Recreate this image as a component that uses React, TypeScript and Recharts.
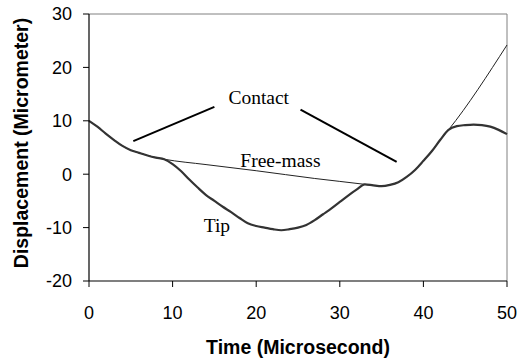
import {
  LineChart,
  Line,
  XAxis,
  YAxis,
  ReferenceLine,
  ReferenceDot,
  Label,
} from "recharts";

// time in microseconds, displacement in micrometers
const time = [
  0, 1, 2, 3, 4, 5, 6, 7, 8, 9, 10, 11, 12, 13, 14, 15, 16, 17, 18, 19, 20, 21,
  22, 23, 24, 25, 26, 27, 28, 29, 30, 31, 32, 33, 34, 35, 36, 37, 38, 39, 40,
  41, 42, 43, 44, 45, 46, 47, 48, 49, 50,
];
const tip = [
  10, 8.9, 7.6, 6.4, 5.3, 4.5, 4.0, 3.5, 3.1, 2.8, 1.9, 0.6, -1.0, -2.5, -3.9,
  -5.0, -6.1, -7.1, -8.2, -9.2, -9.7, -10.0, -10.3, -10.5, -10.3, -10.0, -9.5,
  -8.6, -7.5, -6.4, -5.2, -4.0, -2.9, -1.9, -2.1, -2.25, -2.0, -1.5, -0.5, 0.8,
  2.5, 4.3, 6.4, 8.3, 9.0, 9.2, 9.3, 9.2, 8.9, 8.3, 7.5,
];

const freeMassTime = [
  0, 1, 2, 3, 4, 5, 6, 7, 8, 9, 14, 20, 27, 33, 34, 35, 36, 37, 38, 39, 40, 41,
  42, 43, 50,
];
const freeMass = [
  10, 8.9, 7.6, 6.4, 5.3, 4.5, 4.0, 3.5, 3.1, 2.8, 1.8, 0.65, -0.8, -1.9, -2.1,
  -2.25, -2.0, -1.5, -0.5, 0.8, 2.5, 4.3, 6.4, 8.3, 24.2,
];

const xTicks = [0, 10, 20, 30, 40, 50];
const yTicks = [-20, -10, 0, 10, 20, 30];

// pointer lines from the "Contact" note
const contactPointers = [
  [
    { x: 5.3, y: 6.2 },
    { x: 15.0, y: 12.6 },
  ],
  [
    { x: 25.3, y: 12.1 },
    { x: 36.8, y: 2.3 },
  ],
];

const notes = [
  { text: "Contact", x: 20.3, y: 14.5 },
  { text: "Free-mass", x: 22.9, y: 2.7 },
  { text: "Tip", x: 15.3, y: -9.5 },
];

const tipData = time.map((t, i) => ({ t, v: tip[i] }));
const freeMassData = freeMassTime.map((t, i) => ({ t, v: freeMass[i] }));

const sans = "'Liberation Sans', Arial, sans-serif";
const serif = "'Liberation Serif', 'Times New Roman', serif";

function YTitle({ viewBox }: any) {
  const x = 28;
  const y = viewBox.y + viewBox.height / 2 - 4.5;
  return (
    <text
      x={x}
      y={y}
      transform={`rotate(-90 ${x} ${y})`}
      textAnchor="middle"
      fontFamily={sans}
      fontWeight="bold"
      fontSize={19.5}
      fill="#000"
    >
      Displacement (Micrometer)
    </text>
  );
}

export default function App() {
  return (
    <div style={{ position: "absolute", left: 0, top: 0, background: "#fff" }}>
      <LineChart
        width={530}
        height={358}
        margin={{ top: 14, right: 23, bottom: 0, left: 0 }}
      >
        <XAxis
          dataKey="t"
          type="number"
          domain={[0, 50]}
          ticks={xTicks}
          height={77}
          tickSize={6}
          tickMargin={19}
          axisLine={{ stroke: "#000", strokeWidth: 1.2 }}
          tickLine={{ stroke: "#000" }}
          tick={{ fill: "#000", fontSize: 18, fontFamily: sans }}
        >
          <Label
            value="Time (Microsecond)"
            position="insideBottom"
            offset={4}
            fontFamily={sans}
            fontWeight="bold"
            fontSize={19.5}
            fill="#000"
          />
        </XAxis>
        <YAxis
          type="number"
          domain={[-20, 30]}
          ticks={yTicks}
          width={89}
          tickSize={6}
          tickMargin={11}
          axisLine={{ stroke: "#000", strokeWidth: 1.2 }}
          tickLine={{ stroke: "#000" }}
          tick={{ fill: "#000", fontSize: 18, fontFamily: sans }}
        >
          <Label content={<YTitle />} />
        </YAxis>

        {/* top and right frame edges */}
        <ReferenceLine y={30} stroke="#808080" strokeWidth={1} />
        <ReferenceLine x={50} stroke="#808080" strokeWidth={1} />

        <Line
          data={freeMassData}
          dataKey="v"
          type="monotone"
          stroke="#222"
          strokeWidth={1}
          dot={false}
          activeDot={false}
          isAnimationActive={false}
        />
        <Line
          data={tipData}
          dataKey="v"
          type="monotone"
          stroke="#333"
          strokeWidth={2.2}
          dot={false}
          activeDot={false}
          isAnimationActive={false}
        />

        {contactPointers.map((seg, i) => (
          <ReferenceLine
            key={i}
            segment={seg}
            stroke="#000"
            strokeWidth={2}
          />
        ))}
        {notes.map((n) => (
          <ReferenceDot
            key={n.text}
            x={n.x}
            y={n.y}
            r={0}
            fill="none"
            stroke="none"
            label={{
              value: n.text,
              position: "center",
              fontFamily: serif,
              fontSize: 19.5,
              fill: "#000",
            }}
          />
        ))}
      </LineChart>
    </div>
  );
}
